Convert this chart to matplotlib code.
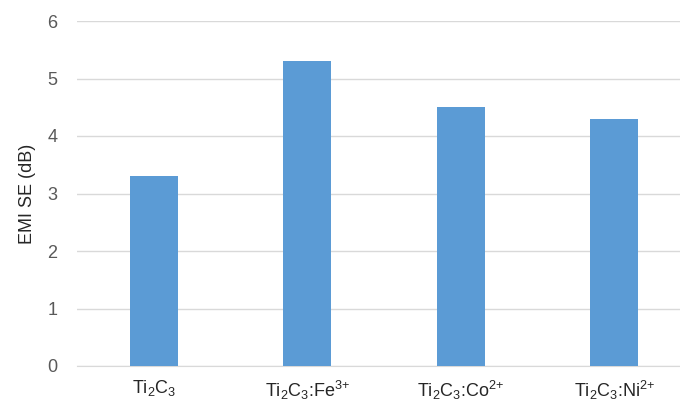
import matplotlib
matplotlib.use("Agg")
import matplotlib.pyplot as plt

plt.rcParams['font.family'] = ['Liberation Sans', 'DejaVu Sans']
plt.rcParams['mathtext.fontset'] = 'custom'
plt.rcParams['mathtext.rm'] = 'Liberation Sans'
plt.rcParams['mathtext.it'] = 'Liberation Sans'
plt.rcParams['mathtext.default'] = 'regular'

categories = [r'Ti$_2$C$_3$', r'Ti$_2$C$_3$:Fe$^{3{+}}$', r'Ti$_2$C$_3$:Co$^{2{+}}$', r'Ti$_2$C$_3$:Ni$^{2{+}}$']
values = [3.3, 5.3, 4.5, 4.3]
yticks = [0, 1, 2, 3, 4, 5, 6]

fig = plt.figure(figsize=(6.8, 4.05), dpi=100)
ax = fig.add_axes([77/680, 39/405, (680-77)/680, 345/405])
x = list(range(len(categories)))
ax.bar(x, values, width=0.31, color='#5B9BD5', zorder=3)
ax.set_xlim(-0.5, 3.5 - 11/153.5)
ax.set_ylim(0, 6)
ax.set_yticks(yticks)
ax.set_xticks(x)
ax.set_xticklabels(categories, fontsize=13, color='#262626')
ax.tick_params(axis='y', labelsize=13, labelcolor='#595959', length=0, pad=14)
ax.tick_params(axis='x', length=0, pad=9)
ax.grid(axis='y', color='#d9d9d9', linewidth=1, zorder=0)
for s in ['top', 'right', 'left']:
    ax.spines[s].set_visible(False)
ax.spines['bottom'].set_color('#d9d9d9')
ax.set_ylabel('EMI SE (dB)', fontsize=13, color='#262626', labelpad=8)
fig.savefig('out.png', dpi=100)
